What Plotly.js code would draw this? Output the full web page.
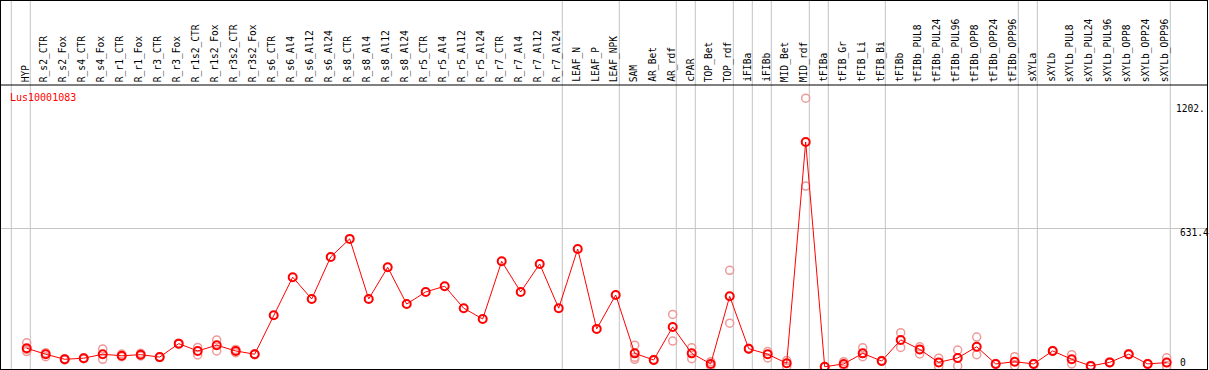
<!DOCTYPE html>
<html>
<head>
<meta charset="utf-8">
<script src="https://cdn.plot.ly/plotly-3.0.1.min.js"></script>
<style>html,body{margin:0;padding:0;background:#fff;}#chart{width:1209px;height:370px;}</style>
</head>
<body>
<div id="chart"></div>
<script>
const geneName = "Lus10001083";
const categories = ["HYP","R_s2_CTR","R_s2_Fox","R_s4_CTR","R_s4_Fox","R_r1_CTR","R_r1_Fox","R_r3_CTR","R_r3_Fox","R_r1s2_CTR","R_r1s2_Fox","R_r3s2_CTR","R_r3s2_Fox","R_s6_CTR","R_s6_Al4","R_s6_Al12","R_s6_Al24","R_s8_CTR","R_s8_Al4","R_s8_Al12","R_s8_Al24","R_r5_CTR","R_r5_Al4","R_r5_Al12","R_r5_Al24","R_r7_CTR","R_r7_Al4","R_r7_Al12","R_r7_Al24","LEAF_N","LEAF_P","LEAF_NPK","SAM","AR_Bet","AR_rdf","cPAR","TOP_Bet","TOP_rdf","iFIBa","iFIBb","MID_Bet","MID_rdf","tFIBa","tFIB_Gr","tFIB_Li","tFIB_Bi","tFIBb","tFIBb_PUL8","tFIBb_PUL24","tFIBb_PUL96","tFIBb_OPP8","tFIBb_OPP24","tFIBb_OPP96","sXYLa","sXYLb","sXYLb_PUL8","sXYLb_PUL24","sXYLb_PUL96","sXYLb_OPP8","sXYLb_OPP24","sXYLb_OPP96"];
const meanValues = [85,58,35,40,58,51,56,45,106,73,99,73,58,235,408,309,500,582,309,453,286,341,367,267,218,480,341,468,267,536,173,327,62,32,182,62,14,321,83,58,17,1022,1,14,62,27,123,80,21,41,92,14,24,14,73,35,5,21,58,14,20];
const repHigh = [110,65,38,42,82,59,62,47,108,89,123,80,60,null,null,null,null,null,null,null,null,null,null,null,null,null,null,null,null,null,null,null,99,34,239,88,24,439,85,70,29,1221,2,24,88,29,156,92,40,77,136,16,47,16,75,56,7,23,60,16,42];
const repLow = [70,47,32,38,35,47,50,43,104,55,73,65,56,null,null,null,null,null,null,null,null,null,null,null,null,null,null,null,null,null,null,null,44,30,118,38,5,199,81,41,1,822,0,5,47,25,89,59,1,5,56,12,5,12,71,14,3,19,56,12,1];
const repThird = [80,null,null,null,null,null,null,null,null,null,null,null,null,null,null,null,null,null,null,null,null,null,null,null,null,null,null,null,null,null,null,null,35,null,null,null,null,null,null,null,null,null,null,null,null,null,null,null,null,null,null,null,null,null,null,null,null,null,null,null,null];
const groupEnds = [-1,0,28,31,34,35,37,38,39,41,42,45,52,53,60];
const yTickVals = [1202, 631.4, 0];
const yTickText = ["1202.", "631.4", "0"];

const idx = categories.map((c,i)=>i);
const repX = [], repY = [];
[repHigh, repLow, repThird].forEach(arr => arr.forEach((v,i)=>{ if(v!==null){repX.push(i); repY.push(v);} }));

const W = 1209, H = 370;
const mL = 1, mR = 2, mT = 1, mB = 1;
const plotH = H - mT - mB, plotW = W - mL - mR;
const k = 139/631.4;           // px per unit
const yMin = -2/k, yMax = yMin + plotH/k;
const step = 19.0;
const xMin = -25.7/step, xMax = xMin + plotW/step;
const pyPaper = px => (H - mB - px)/plotH;
const pxPaper = px => (px - mL)/plotW;

const mono = "DejaVu Sans Mono, monospace";

const traces = [
  {x: repX, y: repY, type:'scatter', mode:'markers', hoverinfo:'skip',
   marker:{symbol:'circle-open', size:8, color:'#ee9a9a', line:{width:1.5, color:'#ee9a9a'}}, cliponaxis:false},
  {x: idx, y: meanValues, type:'scatter', mode:'lines+markers',
   line:{color:'#ff0000', width:1},
   marker:{symbol:'circle-open', size:8, color:'#ff0000', line:{width:2, color:'#ff0000'}}, cliponaxis:false}
];

const shapes = groupEnds.map(g => ({type:'line', xref:'x', yref:'paper', x0:g+0.19, x1:g+0.19, y0:0, y1:1,
  line:{color:'#c4c4c4', width:1}, layer:'below'}));
shapes.push({type:'line', xref:'paper', yref:'paper', x0:0, x1:1, y0:pyPaper(85), y1:pyPaper(85), line:{color:'#000', width:1}});

const annotations = categories.map((c,i)=>({x:i, xref:'x', y:pyPaper(83), yref:'paper', text:c, showarrow:false,
  textangle:-90, xanchor:'center', yanchor:'bottom', xshift:-1.5, borderpad:0,
  font:{family:mono, size:9.6, color:'#000'}}));
annotations.push({x:pxPaper(9), xref:'paper', y:pyPaper(97.5), yref:'paper', text:geneName, showarrow:false,
  xanchor:'left', yanchor:'middle', borderpad:0, font:{family:mono, size:10, color:'#ff0000'}});
const yLabelPx = [[1174.5,108.7],[1179,232],[1179,362]];
yTickText.forEach((t,j)=>annotations.push({x:pxPaper(yLabelPx[j][0]), xref:'paper', y:pyPaper(yLabelPx[j][1]), yref:'paper',
  text:t, showarrow:false, xanchor:'left', yanchor:'middle', borderpad:0, font:{family:mono, size:9.6, color:'#000'}}));

const layout = {
  width:W, height:H, margin:{l:mL, r:mR, t:mT, b:mB, pad:0},
  paper_bgcolor:'#fff', plot_bgcolor:'#fff', showlegend:false,
  xaxis:{range:[xMin,xMax], showgrid:false, zeroline:false, showticklabels:false, ticks:'',
    showline:true, mirror:true, linecolor:'#000', linewidth:1},
  yaxis:{range:[yMin,yMax], tickvals:[yTickVals[1]], showgrid:true, gridcolor:'#c4c4c4', gridwidth:1,
    zeroline:false, showticklabels:false, ticks:'', showline:true, mirror:true, linecolor:'#000', linewidth:1},
  shapes: shapes, annotations: annotations
};
Plotly.newPlot('chart', traces, layout, {staticPlot:true, displayModeBar:false});
</script>
</body>
</html>
